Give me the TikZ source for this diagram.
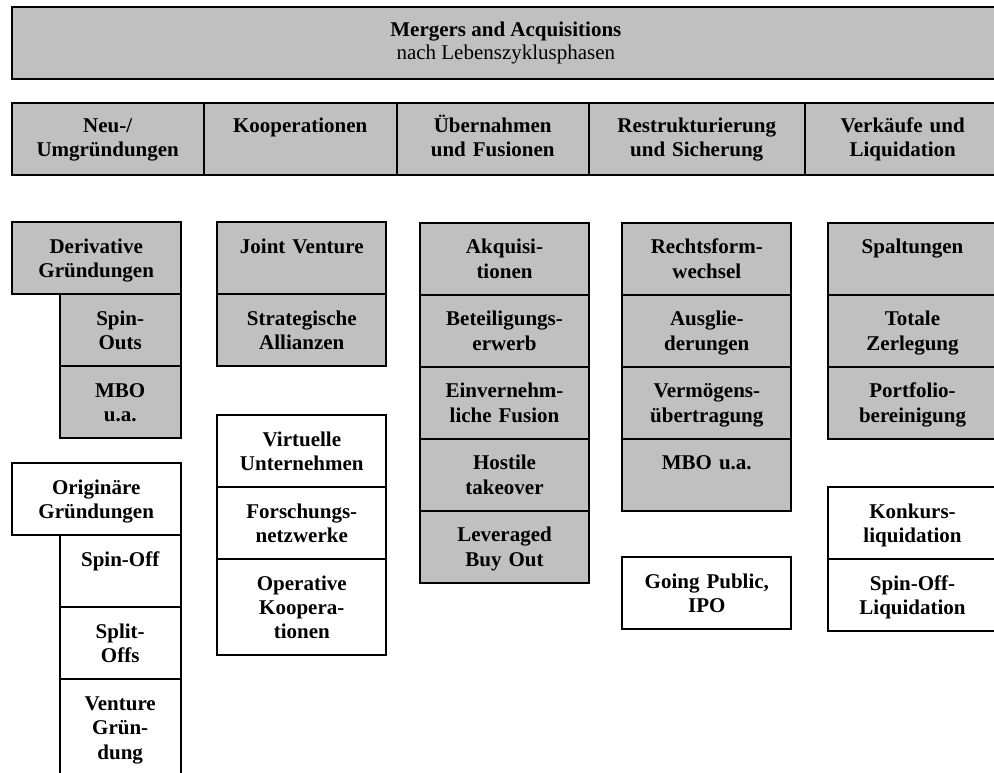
\documentclass[tikz,border=0pt]{standalone}
\usepackage{fontspec}
\setmainfont{Liberation Serif}
\usepackage{tikz}
\usetikzlibrary{positioning}
\definecolor{boxgray}{RGB}{192,192,192}
\newcommand*{\cellfont}{\fontsize{10.5}{12.2}\selectfont\bfseries}
\tikzset{%
  cell/.style={draw, line width=0.9pt, outer sep=0pt, inner sep=0pt,
    text width=84.5pt, align=center, text height=15.5pt, text depth=20.5pt,
    font=\cellfont},% text sits at the top of the box
  grey/.style={cell, fill=boxgray},
  plain/.style={cell, fill=white},
  narrow/.style={text width=60.5pt},% indented sub box
  tall/.style={text depth=32.5pt},% box with three lines
  phase/.style={grey, text height=14.8pt, text depth=21.2pt},% header row
  title/.style={draw, line width=0.9pt, fill=boxgray, outer sep=0pt, inner sep=0pt,
    minimum width=494.15pt, minimum height=36.15pt, align=center,
    font=\fontsize{10.5}{11.5}\selectfont}
}

\begin{document}
\begin{tikzpicture}[x=0.5pt, y=-0.5pt]
\clip (0,0) rectangle (994,772);
\node[title, anchor=north west] (ma) at (11.7,6.7) {\textbf{Mergers and Acquisitions}\\nach Lebenszyklusphasen};

% phases
\node[phase, text width=96pt, anchor=north west] (neu) at (11.7,102.7) {Neu-/\\Umgründungen};
\node[phase, text width=96.5pt, right=0pt of neu] (koop) {Kooperationen};
\node[phase, text width=96pt, right=0pt of koop] (ueber) {Übernahmen\\und Fusionen};
\node[phase, text width=108pt, right=0pt of ueber] (restr) {Restrukturierung\\und Sicherung};
\node[phase, text width=98pt, right=0pt of restr] (verk) {Verkäufe und\\Liquidation};

% Neu-/Umgruendungen
\node[grey, anchor=north west] (deriv) at (11.7,222.3) {Derivative\\Gründungen};
\node[grey, narrow, anchor=north east] (spinouts) at (deriv.south east) {Spin-\\Outs};
\node[grey, narrow, below=0pt of spinouts] (mbo) {MBO\\u.a.};
\node[plain, anchor=north west] (orig) at (11.7,463.3) {Originäre\\Gründungen};
\node[plain, narrow, anchor=north east] (spinoff) at (orig.south east) {Spin-Off};
\node[plain, narrow, below=0pt of spinoff] (splitoffs) {Split-\\Offs};
\node[plain, narrow, tall, below=0pt of splitoffs] (venture) {Venture\\Grün-\\dung};

% Kooperationen
\node[grey, anchor=north west] (joint) at (217.3,222.3) {Joint Venture};
\node[grey, below=0pt of joint] (allianz) {Strategische\\Allianzen};
\node[plain, anchor=north west] (virt) at (217.3,415) {Virtuelle\\Unternehmen};
\node[plain, below=0pt of virt] (forsch) {Forschungs-\\netzwerke};
\node[plain, tall, below=0pt of forsch] (operativ) {Operative\\Koopera-\\tionen};

% Uebernahmen und Fusionen
\node[grey, anchor=north west] (akqu) at (420,222.7) {Akquisi-\\tionen};
\node[grey, below=0pt of akqu] (beteil) {Beteiligungs-\\erwerb};
\node[grey, below=0pt of beteil] (einv) {Einvernehm-\\liche Fusion};
\node[grey, below=0pt of einv] (hostile) {Hostile\\takeover};
\node[grey, below=0pt of hostile] (lbo) {Leveraged\\Buy Out};

% Restrukturierung und Sicherung
\node[grey, anchor=north west] (rechts) at (622.3,222.7) {Rechtsform-\\wechsel};
\node[grey, below=0pt of rechts] (ausgl) {Ausglie-\\derungen};
\node[grey, below=0pt of ausgl] (vermoeg) {Vermögens-\\übertragung};
\node[grey, below=0pt of vermoeg] (mboua) {MBO u.a.};
\node[plain, anchor=north west] (ipo) at (622.3,557.3) {Going Public,\\IPO};

% Verkaeufe und Liquidation
\node[grey, anchor=north west] (spalt) at (828,222.7) {Spaltungen};
\node[grey, below=0pt of spalt] (totale) {Totale\\Zerlegung};
\node[grey, below=0pt of totale] (portf) {Portfolio-\\bereinigung};
\node[plain, anchor=north west] (konkurs) at (828,487) {Konkurs-\\liquidation};
\node[plain, below=0pt of konkurs] (spinliq) {Spin-Off-\\Liquidation};
\end{tikzpicture}
\end{document}
